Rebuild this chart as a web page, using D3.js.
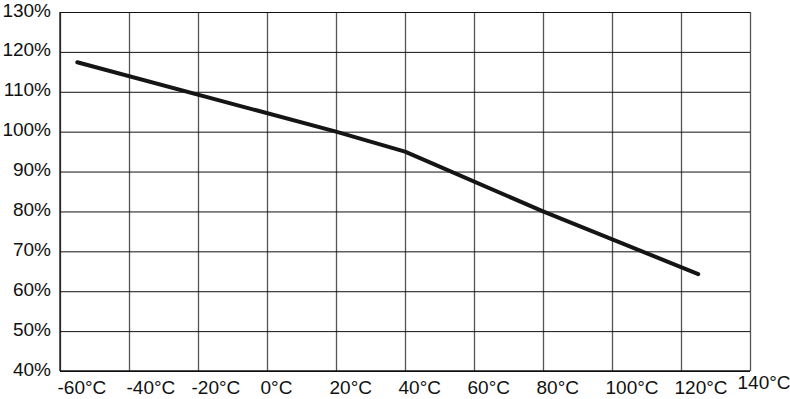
<!DOCTYPE html>
<html>
<head>
<meta charset="utf-8">
<script src="https://cdn.jsdelivr.net/npm/d3@7"></script>
<style>
  body { margin: 0; background: #fff; }
  text { font-family: "Liberation Sans", Arial, sans-serif; fill: #111; }
</style>
</head>
<body>
<div class="canvas"></div>
<script>
// data
const temps = [-55, 20, 40, 80, 125];
const values = [117.4, 100, 95, 80, 64.3];
const xTicks = [-60, -40, -20, 0, 20, 40, 60, 80, 100, 120, 140];
const yTicks = [40, 50, 60, 70, 80, 90, 100, 110, 120, 130];

const width = 790;
const height = 399;
const margin = { top: 12, right: 40, bottom: 28, left: 60 };
const graphWidth = width - margin.left - margin.right;
const graphHeight = height - margin.top - margin.bottom;

const svg = d3
  .select(".canvas")
  .append("svg")
  .attr("width", width)
  .attr("height", height);

const graph = svg
  .append("g")
  .attr("transform", `translate(${margin.left},${margin.top})`);

const x = d3.scaleLinear().domain([-60, 140]).range([0, graphWidth]);
const y = d3.scaleLinear().domain([40, 130]).range([graphHeight, 0]);

// vertical grid + x labels
const xAxis = d3
  .axisBottom(x)
  .tickValues(xTicks)
  .tickSize(-graphHeight)
  .tickPadding(0)
  .tickFormat((d) => d + "°C");

const xAxisGroup = graph
  .append("g")
  .attr("transform", `translate(0,${graphHeight})`)
  .call(xAxis);

xAxisGroup.select(".domain").remove();
xAxisGroup.selectAll("line").attr("stroke", "#555").attr("stroke-width", 1.3);
xAxisGroup
  .selectAll("text")
  .attr("text-anchor", "start")
  .attr("dy", null)
  .attr("x", (d) => (d === 140 ? -13 : d <= -40 ? -3 : -7))
  .attr("y", (d) => (d === 140 ? 18 : 23))
  .style("font-size", "19px");

// horizontal grid + y labels
const yAxis = d3
  .axisLeft(y)
  .tickValues(yTicks)
  .tickSize(-graphWidth)
  .tickPadding(9)
  .tickFormat((d) => d + "%");

const yAxisGroup = graph.append("g").call(yAxis);
yAxisGroup.select(".domain").remove();
yAxisGroup.selectAll("line").attr("stroke", "#111").attr("stroke-width", 1);
yAxisGroup
  .selectAll("text")
  .attr("dy", "0.32em")
  .attr("y", -2)
  .style("font-size", "19px");

// left and bottom border
graph
  .append("line")
  .attr("x1", 0)
  .attr("x2", 0)
  .attr("y1", 0)
  .attr("y2", graphHeight)
  .attr("stroke", "#111")
  .attr("stroke-width", 1.3);
graph
  .append("line")
  .attr("x1", 0)
  .attr("x2", graphWidth)
  .attr("y1", graphHeight)
  .attr("y2", graphHeight)
  .attr("stroke", "#111")
  .attr("stroke-width", 1.3);

// data line
const data = temps.map((t, i) => ({ t: t, v: values[i] }));
const line = d3
  .line()
  .x((d) => x(d.t))
  .y((d) => y(d.v));

graph
  .append("path")
  .datum(data)
  .attr("fill", "none")
  .attr("stroke", "#151515")
  .attr("stroke-width", 4)
  .attr("stroke-linecap", "round")
  .attr("stroke-linejoin", "round")
  .attr("d", line);
</script>
</body>
</html>
